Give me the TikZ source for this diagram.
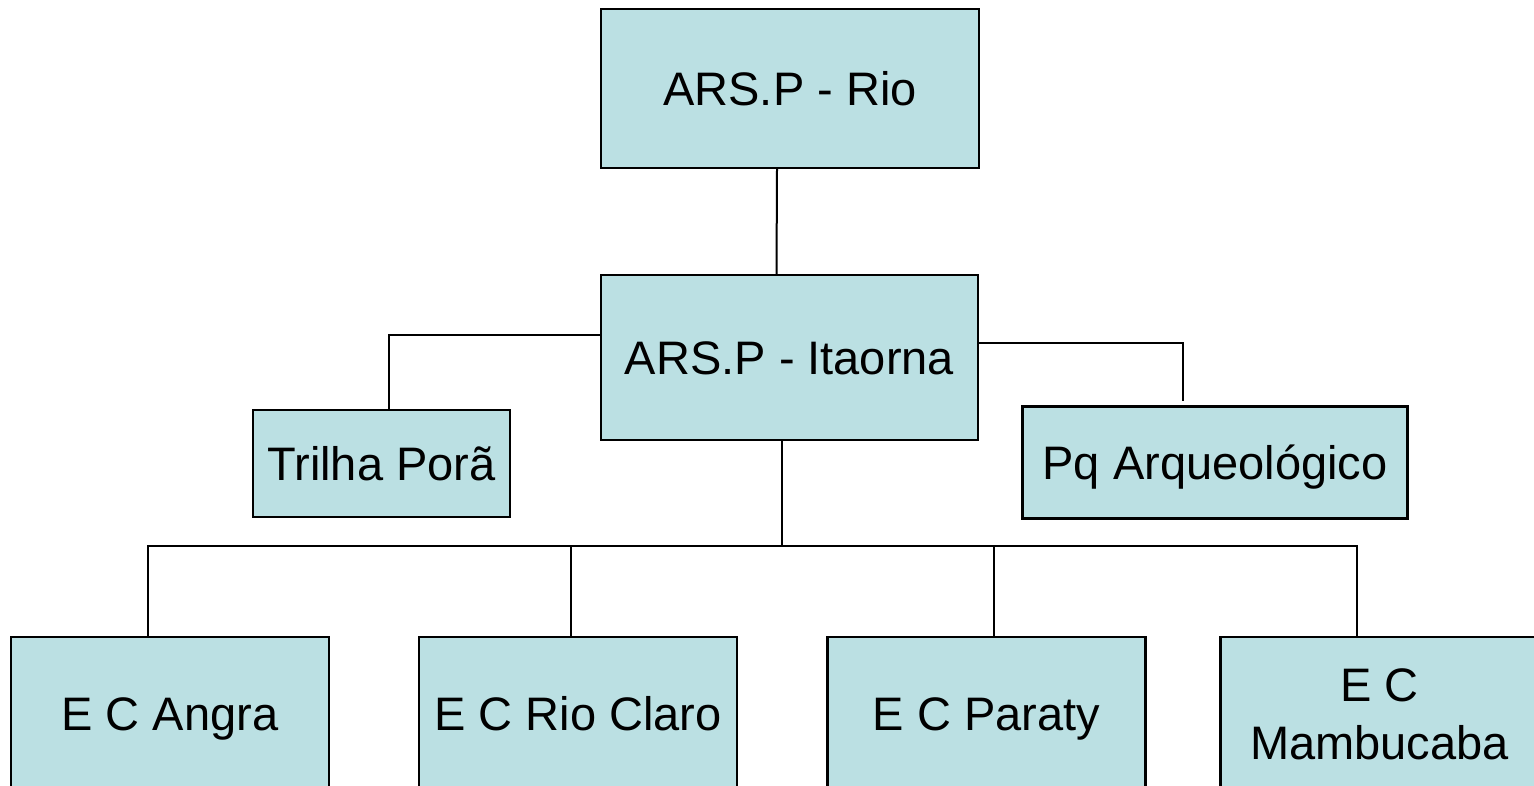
\documentclass[tikz,border=0pt]{standalone}
\usepackage{fontspec}
\setmainfont{Liberation Sans}
\usepackage{tikz}
\definecolor{boxfill}{HTML}{BBE0E3}

\begin{document}
\begin{tikzpicture}[x = 1pt, y = -1pt,
	box/.style = {draw, line width = 2.4pt, fill = boxfill, inner sep = 0pt, align = center, text height = 34.6pt, text depth = 0pt, font = \fontsize{47}{57.3}\selectfont},
	link/.style = {line width = 2pt}]
\clip (0,0) rectangle (1534,786);
\fill[white] (0,0) rectangle (1534,786);

\node[box, minimum width = 378pt, minimum height = 159pt] (rio) at (790,88.5) {ARS.P - Rio};
\node[box, minimum width = 377pt, minimum height = 165pt] (itaorna) at (789.5,357.5) {ARS.P - Itaorna};
\node[box, minimum width = 257pt, minimum height = 107pt] (trilha) at (381.5,463.5) {Trilha Porã};
\node[box, minimum width = 385pt, minimum height = 112pt] (pq) at (1215,462.5) {Pq Arqueológico};

\foreach \name/\x/\txt in {angra/170/E C Angra, rioclaro/578/E C Rio Claro, paraty/986.5/E C Paraty} {
	\node[box, minimum width = 318pt, minimum height = 152pt] (\name) at (\x,713) {\txt};
}
\node[box, text height = 92pt, minimum width = 318pt, minimum height = 152pt] (mamb) at (1379.5,713) {E C\\Mambucaba};

\draw[link] ([xshift=-13pt]rio.south) -- ([xshift=-13pt]itaorna.north);
\draw[link] ([yshift=22.5pt]itaorna.west) -| ([xshift=7.5pt]trilha.north);
\draw[link] ([yshift=15pt]itaorna.east) -| ([xshift=-32pt, yshift=4pt]pq.north);

\coordinate (bus) at (782,546);
\coordinate (da) at ([xshift=-22pt]angra.north);
\coordinate (dm) at ([xshift=-22.5pt]mamb.north);
\draw[link] ([xshift=-7.5pt]itaorna.south) -- (bus);
\draw[link] (da) -- (da |- bus) -- (dm |- bus) -- (dm);
\draw[link] ([xshift=-7pt]rioclaro.north) -- ([xshift=-7pt]rioclaro.north |- bus);
\draw[link] ([xshift=7.5pt]paraty.north) -- ([xshift=7.5pt]paraty.north |- bus);
\end{tikzpicture}
\end{document}
